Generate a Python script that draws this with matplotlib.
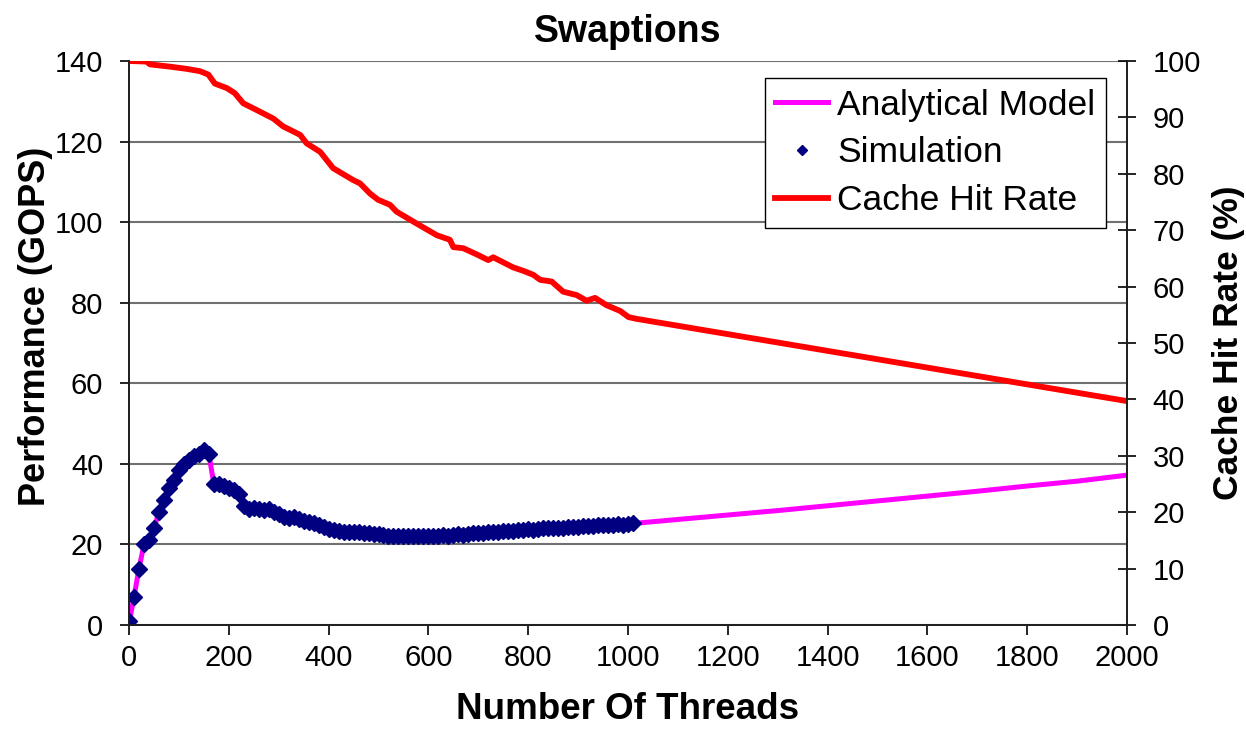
import matplotlib.pyplot as plt
import matplotlib.ticker as mticker

plt.rcParams['font.family'] = ['Liberation Sans', 'DejaVu Sans']

# Simulated performance (GOPS) vs thread count
sim_threads = [1] + list(range(10, 1011, 10))
sim_perf = [
    1, 7, 14, 20, 21, 24, 28, 31, 34, 36,
    38.5, 40, 41, 42, 42.5, 43.5, 42.5, 35, 35, 34.5,
    34, 33.5, 32.5, 29.5, 28.8, 29, 28.8, 28.6, 28.8, 28,
    27.5, 26.8, 26.5, 26.8, 26.2, 25.8, 25.6, 25.2, 24.8, 24.3,
    23.8, 23.5, 23.4, 23.2, 23.2, 23.1, 23, 22.9, 22.8, 22.6,
    22.5, 22.3, 22.2, 22.2, 22.1, 22.1, 22.0, 22.1, 22.0, 22.1,
    22.0, 22.1, 22.2, 22.3, 22.2, 22.4, 22.5, 22.4, 22.6, 22.8,
    22.9, 22.8, 23.0, 23.2, 23.1, 23.3, 23.4, 23.3, 23.5, 23.7,
    23.8, 23.7, 23.9, 24.0, 24.1, 24.0, 24.2, 24.1, 24.3, 24.4,
    24.3, 24.5, 24.6, 24.5, 24.7, 24.8, 24.7, 24.9, 25.0, 24.9,
    25.1, 25.2,
]

# Analytical model: follows the simulation, then extrapolates to 2000 threads
ext_threads = [1100, 1200, 1300, 1400, 1500, 1600, 1700, 1800, 1900, 2000]
ext_perf = [26.2, 27.3, 28.4, 29.6, 30.8, 32.0, 33.2, 34.5, 35.7, 37.2]
model_threads = sim_threads + ext_threads
model_perf = sim_perf + ext_perf

# Cache hit rate (%)
cache_threads = [1, 35, 42, 82, 116, 142, 159, 172, 196, 212, 229, 256, 289, 309,
                 343, 356, 383, 409, 449, 463, 483, 499, 523, 536, 576, 617, 643,
                 650, 670, 697, 720, 730, 770, 790, 810, 824, 847, 870, 897, 917,
                 934, 957, 984, 1001, 1016, 2000]
cache_rate = [100, 99.9, 99.4, 99, 98.6, 98.2, 97.6, 96, 95.2, 94.3, 92.5, 91.3,
              89.8, 88.4, 86.9, 85.4, 83.9, 81, 78.9, 78.3, 76.5, 75.4, 74.5, 73.3,
              71.2, 69.1, 68.3, 67, 66.8, 65.7, 64.7, 65.2, 63.4, 62.8, 62.1, 61.2,
              60.9, 59.1, 58.5, 57.5, 58, 56.7, 55.7, 54.6, 54.3, 39.7]

fig = plt.figure(figsize=(12.46, 7.29), dpi=100)
ax = fig.add_axes([129 / 1246, 1 - 625 / 729, 998 / 1246, 564 / 729])
ax2 = ax.twinx()

l_model, = ax.plot(model_threads, model_perf, color='#FF00FF', lw=3.6,
                   label='Analytical Model', zorder=2)
l_sim, = ax.plot(sim_threads, sim_perf, linestyle='none', marker='D',
                 markersize=8, color='#000080', label='Simulation', zorder=3)
l_cache, = ax2.plot(cache_threads, cache_rate, color='#FF0000', lw=4.2,
                    label='Cache Hit Rate')

ax.set_xlim(0, 2000)
ax.set_ylim(0, 140)
ax2.set_ylim(0, 100)
ax.xaxis.set_major_locator(mticker.MultipleLocator(200))
ax.yaxis.set_major_locator(mticker.MultipleLocator(20))
ax2.yaxis.set_major_locator(mticker.MultipleLocator(10))

ax.grid(axis='y', color='#707070', lw=1.5)
ax.set_axisbelow(True)
for a in (ax, ax2):
    a.spines['top'].set_visible(False)
    for s in a.spines.values():
        s.set_color('#202020')
        s.set_linewidth(1.3)

ax.tick_params(axis='x', direction='out', length=7, width=1.2, pad=7, labelsize=21)
ax.tick_params(axis='y', direction='out', length=6.5, width=1.2, pad=12, labelsize=21)
ax2.tick_params(axis='y', direction='inout', length=13, width=1.2, pad=12, labelsize=21)

ax.set_xlabel('Number Of Threads', fontsize=26.5, fontweight='bold', labelpad=14)
ax.set_ylabel('Performance (GOPS)', fontsize=26, fontweight='bold')
ax.yaxis.set_label_coords(-0.076, 0.53)
ax2.set_ylabel('Cache Hit Rate (%)', fontsize=25.5, fontweight='bold', labelpad=8)
ax.set_title('Swaptions', fontsize=27, fontweight='bold', pad=14)

leg = ax2.legend(handles=[l_model, l_sim, l_cache], loc='upper right',
                 bbox_to_anchor=(1106 / 1246, 1 - 78 / 729),
                 bbox_transform=fig.transFigure, fontsize=25.5, frameon=True,
                 fancybox=False, framealpha=1, edgecolor='black',
                 handlelength=1.5, handletextpad=0.25, labelspacing=0.42,
                 borderpad=0.3, borderaxespad=0, markerscale=0.7)
leg.get_frame().set_linewidth(1)

fig.savefig('out.png', dpi=100)
